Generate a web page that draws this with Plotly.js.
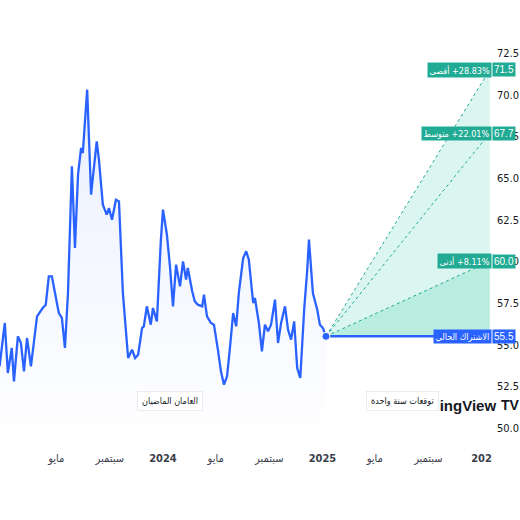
<!DOCTYPE html>
<html><head><meta charset="utf-8">
<script src="https://cdn.plot.ly/plotly-3.0.1.min.js"></script>
<style>html,body{margin:0;padding:0;background:#fff}#c{width:520px;height:520px}</style>
</head><body><div id="c"></div>
<script>
const dates = ['2022-12-22','2023-01-03','2023-01-10','2023-01-19','2023-01-24','2023-02-02','2023-02-09','2023-02-16','2023-02-23','2023-03-04',
'2023-03-18','2023-03-27','2023-03-31','2023-04-07','2023-04-14','2023-04-21','2023-04-30','2023-05-07','2023-05-14','2023-05-21',
'2023-05-28','2023-06-06','2023-06-13','2023-06-20','2023-06-27','2023-07-01','2023-07-11','2023-07-20','2023-07-24','2023-08-02',
'2023-08-07','2023-08-16','2023-08-25','2023-08-30','2023-09-06','2023-09-15','2023-09-22','2023-10-01','2023-10-13','2023-10-22',
'2023-10-29','2023-11-05','2023-11-14','2023-11-18','2023-11-25','2023-12-04','2023-12-09','2023-12-18','2023-12-27','2024-01-01',
'2024-01-10','2024-01-17','2024-01-24','2024-01-31','2024-02-09','2024-02-16','2024-02-23','2024-02-27','2024-03-08','2024-03-14',
'2024-03-21','2024-03-31','2024-04-04','2024-04-11','2024-04-20','2024-04-27','2024-05-06','2024-05-13','2024-05-20','2024-05-27',
'2024-06-03','2024-06-10','2024-06-17','2024-06-23','2024-07-03','2024-07-10','2024-07-16','2024-07-26','2024-07-30','2024-08-08',
'2024-08-15','2024-08-22','2024-08-29','2024-09-05','2024-09-14','2024-09-21','2024-09-28','2024-10-07','2024-10-14','2024-10-21',
'2024-10-28','2024-11-04','2024-11-11','2024-11-20','2024-11-27','2024-12-01','2024-12-10','2024-12-20','2024-12-26','2025-01-02',
'2025-01-09'];
const price = [53.7,56.3,53.3,54.8,52.8,55.5,55.1,53.4,55.4,53.7,
56.7,57.1,57.2,57.4,59.1,59.1,57.9,56.9,56.6,54.8,
58.1,65.7,60.8,65.2,66.8,66.5,70.3,64.0,65.0,67.2,
66.1,63.4,62.8,63.2,62.5,63.7,63.6,58.1,54.2,54.7,
54.2,54.4,56.0,56.1,57.3,56.2,57.2,56.4,61.2,63.1,
61.6,59.7,57.3,59.8,58.5,60.0,58.9,59.6,58.2,57.6,
57.4,57.3,58.0,56.7,56.3,56.2,54.7,53.4,52.6,53.1,
54.9,56.9,56.1,58.1,60.2,60.6,60.1,57.5,57.8,56.3,
54.6,56.2,55.8,56.2,57.7,55.1,56.3,57.3,55.9,55.3,
56.4,53.6,53.0,57.1,59.5,61.3,58.1,57.1,56.2,56.0,
55.5];

const forecastStart = '2025-01-09';
const forecastEnd = '2026-01-20';
const currentValue = 55.5;
const maxTarget = 71.5, avgTarget = 67.7, minTarget = 60.0;
const L = '\u200E';
const maxLabel = L + 'أقصى' + L + ' +28.83%';
const avgLabel = L + 'متوسط' + L + ' +22.01%';
const minLabel = L + 'أدنى' + L + ' +8.11%';
const currentLabel = 'الاشتراك الحالي';
const pastLabel = 'العامان الماضيان';
const futureLabel = 'توقعات سنة واحدة';

const xTickVals = ['2023-05-01','2023-09-01','2024-01-01','2024-05-01','2024-09-01','2025-01-01','2025-05-01','2025-09-01','2026-01-01'];
const xTickText = ['مايو','سبتمبر','<b>2024</b>','مايو','سبتمبر','<b>2025</b>','مايو','سبتمبر','<b>202</b>'];

const BLUE = '#2962ff', TEAL = '#22ab94';
const FONT = 'Liberation Sans Narrow, DejaVu Sans Condensed, DejaVu Sans, sans-serif';
const NUMFONT = 'Liberation Sans Narrow, Liberation Sans, sans-serif';

const traces = [
  {x: dates, y: price, type: 'scatter', mode: 'lines', fill: 'tozeroy',
   fillcolor: 'rgba(41,98,255,0.05)',
   fillgradient: {type: 'vertical', start: 49, stop: 71,
     colorscale: [[0, 'rgba(41,98,255,0.0)'], [1, 'rgba(41,98,255,0.10)']]},
   line: {color: BLUE, width: 2.3}, hoverinfo: 'skip'},
  {x: [forecastStart, forecastEnd, forecastEnd, forecastStart], y: [currentValue, maxTarget, minTarget, currentValue],
   type: 'scatter', mode: 'none', fill: 'toself', fillcolor: 'rgba(34,200,160,0.16)', hoverinfo: 'skip'},
  {x: [forecastStart, forecastEnd, forecastEnd, forecastStart], y: [currentValue, minTarget, currentValue, currentValue],
   type: 'scatter', mode: 'none', fill: 'toself', fillcolor: 'rgba(34,200,160,0.32)', hoverinfo: 'skip'},
  {x: [forecastStart, forecastEnd], y: [currentValue, maxTarget], type: 'scatter', mode: 'lines',
   line: {color: TEAL, width: 1, dash: 'dot'}, hoverinfo: 'skip'},
  {x: [forecastStart, forecastEnd], y: [currentValue, avgTarget], type: 'scatter', mode: 'lines',
   line: {color: TEAL, width: 1, dash: 'dot'}, hoverinfo: 'skip'},
  {x: [forecastStart, forecastEnd], y: [currentValue, minTarget], type: 'scatter', mode: 'lines',
   line: {color: TEAL, width: 1, dash: 'dot'}, hoverinfo: 'skip'},
  {x: [forecastStart, forecastEnd], y: [currentValue, currentValue], type: 'scatter', mode: 'lines',
   line: {color: BLUE, width: 2.5}, hoverinfo: 'skip'},
  {x: [forecastStart], y: [currentValue], type: 'scatter', mode: 'markers',
   marker: {color: BLUE, size: 8, line: {color: '#fff', width: 1}}, hoverinfo: 'skip'}
];

function tag(y, label, value, color) {
  return [
    {xref: 'paper', yref: 'y', x: 0.999, y: y, xanchor: 'right', yanchor: 'middle', text: label, showarrow: false,
     bgcolor: color, font: {family: FONT, size: 9, color: '#fff'}, borderpad: 1.5},
    {xref: 'paper', yref: 'y', x: 1.0, y: y, xanchor: 'left', yanchor: 'middle', text: value, showarrow: false,
     bgcolor: color, font: {family: NUMFONT, size: 10, color: '#fff'}, borderpad: 1}
  ];
}

const annotations = [
  {xref: 'paper', yref: 'paper', x: 1.012, y: 0.085, xanchor: 'right', yanchor: 'middle', text: '<b>TradingView</b>',
   showarrow: false, font: {family: NUMFONT, size: 15, color: '#131722'}},
  {xref: 'paper', yref: 'paper', x: 1.015, y: 0.085, xanchor: 'left', yanchor: 'middle', text: '<b>TV</b>',
   showarrow: false, font: {family: NUMFONT, size: 14, color: '#131722'}},
  {xref: 'paper', yref: 'paper', x: 0.345, y: 0.095, xanchor: 'center', yanchor: 'middle', text: pastLabel,
   showarrow: false, bgcolor: '#fff', bordercolor: '#ececf0', borderwidth: 1, borderpad: 4,
   font: {family: FONT, size: 9, color: '#131722'}},
  {xref: 'paper', yref: 'paper', x: 0.818, y: 0.095, xanchor: 'center', yanchor: 'middle', text: futureLabel,
   showarrow: false, bgcolor: '#fff', bordercolor: '#ececf0', borderwidth: 1, borderpad: 4,
   font: {family: FONT, size: 9, color: '#131722'}},
  ...tag(maxTarget, maxLabel, maxTarget.toFixed(1), TEAL),
  ...tag(avgTarget, avgLabel, avgTarget.toFixed(1), TEAL),
  ...tag(minTarget, minLabel, minTarget.toFixed(1), TEAL),
  ...tag(currentValue, currentLabel, currentValue.toFixed(1), BLUE)
];

const layout = {
  width: 520, height: 520,
  margin: {l: 0, r: 28, t: 30, b: 80},
  paper_bgcolor: '#fff', plot_bgcolor: '#fff',
  showlegend: false,
  font: {family: FONT, color: '#131722'},
  xaxis: {type: 'date', range: ['2022-12-23', '2026-01-25'], tickvals: xTickVals, ticktext: xTickText,
    showgrid: false, zeroline: false, showline: false, ticks: '', ticklabelstandoff: 10,
    tickfont: {family: FONT, size: 11, color: '#3a3e4a'}, fixedrange: true},
  yaxis: {side: 'right', range: [49.28, 73.88], tick0: 50, dtick: 2.5, tickformat: '.1f',
    showgrid: false, zeroline: false, showline: false, ticks: '', ticklabelstandoff: 4,
    tickfont: {family: FONT, size: 11, color: '#131722'}, fixedrange: true},
  annotations: annotations
};

Plotly.newPlot('c', traces, layout, {displayModeBar: false, staticPlot: true});
</script></body></html>
